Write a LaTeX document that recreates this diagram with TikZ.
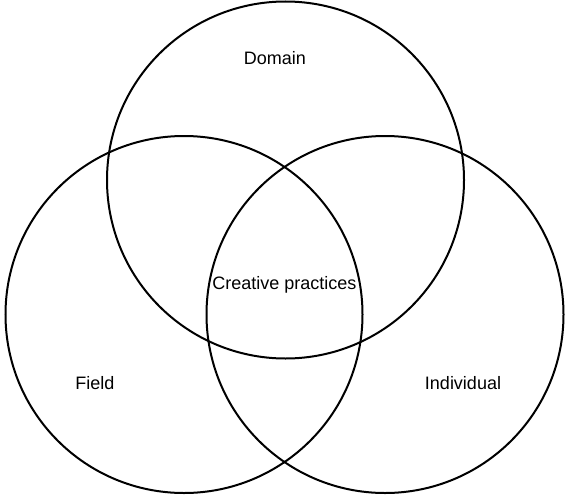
\documentclass[tikz,border=0pt]{standalone}
\usepackage{fontspec}
\setmainfont{Liberation Sans}
\begin{document}
\begin{tikzpicture}[x=1pt,y=-1pt,
  setcircle/.style={draw=black,line width=2pt,circle,minimum size=357pt,inner sep=0pt},
  setlabel/.style={anchor=base,inner sep=0pt,font=\fontsize{18}{21}\selectfont}]
  \useasboundingbox (0,0) rectangle (567,495);
  % the three overlapping sets
  \node[setcircle] (domain) at (285.5,180) {};
  \node[setcircle] (field) at (184,314.5) {};
  \node[setcircle] (individual) at (385,314.5) {};
  % labels
  \node[setlabel] (domainlabel) at (275,64.5) {Domain};
  \node[setlabel] (centerlabel) at (284.5,289.5) {Creative practices};
  \node[setlabel] (fieldlabel) at (95,389) {Field};
  \node[setlabel] (individuallabel) at (463,389) {Individual};
\end{tikzpicture}
\end{document}
